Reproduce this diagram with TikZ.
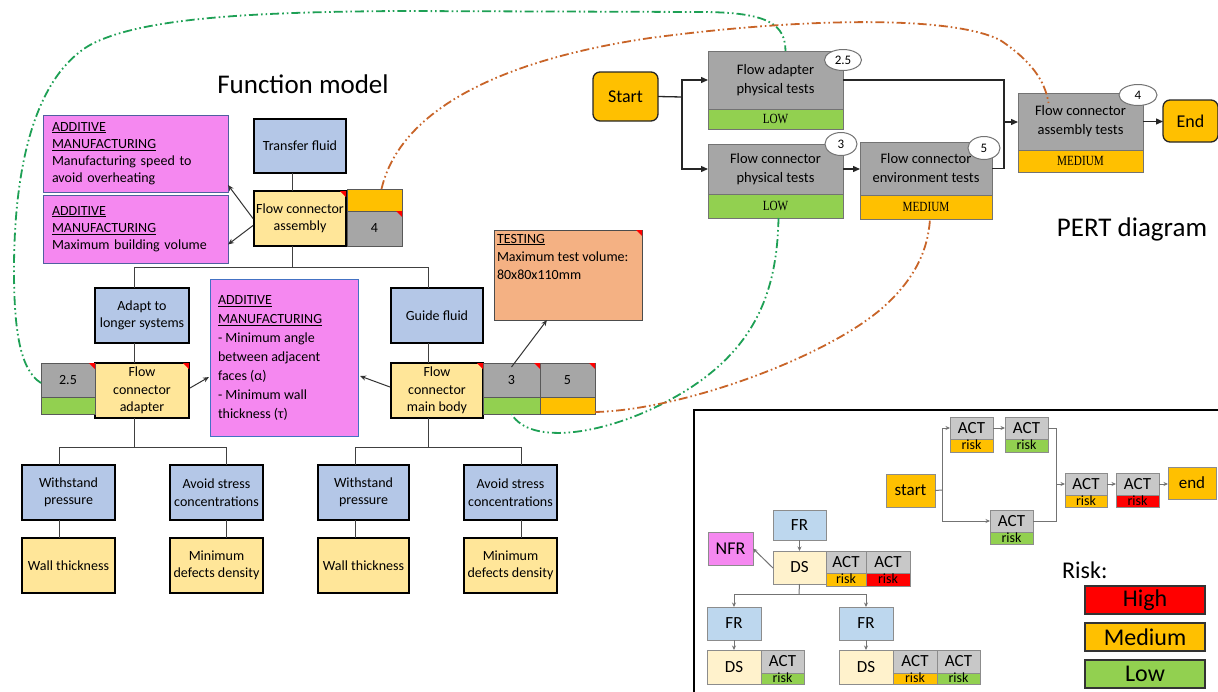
\documentclass[tikz,border=0pt]{standalone}
\usepackage{fontspec}
\setmainfont{Carlito}
\newfontfamily\riskfont[FakeStretch=0.8]{Liberation Serif}
\usetikzlibrary{arrows.meta,shapes.geometric}

\definecolor{fmblue}{RGB}{180,199,231}
\definecolor{fmyellow}{RGB}{255,230,153}
\definecolor{fmgray}{RGB}{166,166,166}
\definecolor{amorange}{RGB}{255,192,0}
\definecolor{riskgreen}{RGB}{146,208,80}
\definecolor{amred}{RGB}{255,0,0}
\definecolor{ampink}{RGB}{245,136,240}
\definecolor{pinkedge}{RGB}{80,95,160}
\definecolor{bigpinkedge}{RGB}{68,114,196}
\definecolor{testfill}{RGB}{244,177,131}
\definecolor{insetgray}{RGB}{200,200,200}
\definecolor{insetblue}{RGB}{189,215,238}
\definecolor{insetcream}{RGB}{255,242,204}
\definecolor{linkgreen}{RGB}{30,160,85}
\definecolor{linkorange}{RGB}{200,100,40}
\definecolor{edgegray}{RGB}{89,89,89}

\newcommand{\fsz}[2]{\fontsize{#1}{#2}\selectfont}
\newcommand{\redcorner}[1]{\fill[amred] ([xshift=-6pt]#1.north east) -- (#1.north east) -- ([yshift=-6pt]#1.north east) -- cycle;}

\tikzset{
  base/.style={anchor=north west, inner sep=0pt, outer sep=0pt, align=center},
  fmfun/.style={base, draw=black, line width=2pt, fill=fmblue, font=\fsz{14}{17.5}},
  fmds/.style={base, draw=black, line width=2pt, fill=fmyellow, font=\fsz{14}{17.5}},
  numbox/.style={base, draw=edgegray, line width=0.8pt, fill=fmgray, font=\fsz{14}{17}},
  riskbar/.style={base, draw=edgegray, line width=0.8pt},
  note/.style={base, draw=pinkedge, line width=1pt, fill=ampink, align=left, inner xsep=9pt, font=\fsz{14}{17}},
  fmline/.style={draw=black!75, line width=1pt},
  fmarrow/.style={draw=black!80, line width=1pt, -{Stealth[length=6pt,width=5pt]}},
  title/.style={font=\fsz{27}{27}, inner sep=0pt},
  pertbox/.style={base, draw=black!55, line width=1pt, fill=fmgray, font=\fsz{14.5}{19}},
  pertrisk/.style={base, draw=black!55, line width=1pt, font=\riskfont\fsz{14}{14}},
  terminal/.style={base, draw=black!85, line width=1.3pt, fill=amorange, rounded corners=7pt, font=\fsz{18}{18}},
  tag/.style={ellipse, draw=black!55, line width=1pt, fill=white, inner sep=0pt, font=\fsz{13}{13}},
  pertline/.style={draw=black!85, line width=1.3pt},
  pertarrow/.style={draw=black!85, line width=1.3pt, -{Triangle[length=7pt,width=6pt]}},
  actbox/.style={base, draw=black!45, line width=0.8pt, fill=insetgray, font=\fsz{17}{17}},
  riskcell/.style={base, draw=black!45, line width=0.8pt, font=\fsz{14}{14}, text height=9pt, text depth=1pt},
  inbox/.style={base, draw=black!45, line width=0.8pt, font=\fsz{17}{17}},
  legendbox/.style={base, draw=black!80, line width=1.2pt, font=\fsz{24}{24}},
  inline/.style={draw=black!55, line width=1pt},
  inarrow/.style={draw=black!55, line width=1pt, -{Stealth[length=4.5pt,width=4pt]}},
  link/.style={line width=1.8pt, dash pattern=on 9pt off 3pt on 1.6pt off 3pt on 1.6pt off 3pt},
}

\begin{document}
\begin{tikzpicture}[x=1pt,y=-1pt]
\useasboundingbox (0,0) rectangle (1218,691);

% ---------------- Function model ----------------
\node[title] (fmtitle) at (303,84) {Function model};

\node[note, text width=167pt, minimum width=185pt, minimum height=77pt] (am1) at (43,115)
  {\underline{ADDITIVE}\\\underline{MANUFACTURING}\\Manufacturing speed to\\avoid overheating};
\node[note, text width=167pt, minimum width=185pt, minimum height=68pt] (am2) at (43,195)
  {\underline{ADDITIVE}\\\underline{MANUFACTURING}\\Maximum building volume};

\node[fmfun, minimum width=92pt, minimum height=54pt] (tf) at (254,119) {Transfer fluid};
\node[fmds, minimum width=92pt, minimum height=55pt] (fca) at (254,191) {Flow connector\\assembly};
\node[riskbar, fill=amorange, minimum width=55pt, minimum height=22pt] (fcarisk) at (347,189) {};
\node[numbox, minimum width=55pt, minimum height=35pt] (fcanum) at (347,211) {4};

\node[fmfun, minimum width=94pt, minimum height=55pt] (adapt) at (95,288) {Adapt to\\longer systems};
\node[fmfun, minimum width=92pt, minimum height=55pt] (guide) at (391,288) {Guide fluid};

\node[fmds, minimum width=94pt, minimum height=55pt] (adapter) at (95,363) {Flow\\connector\\adapter};
\node[numbox, minimum width=54pt, minimum height=34pt] (num25) at (41,363) {2.5};
\node[riskbar, fill=riskgreen, minimum width=54pt, minimum height=17pt] (risk25) at (41,397) {};

\node[fmds, minimum width=92pt, minimum height=55pt] (body) at (391,363) {Flow\\connector\\main body};
\node[numbox, minimum width=57pt, minimum height=34pt] (num3) at (483,363) {3};
\node[riskbar, fill=riskgreen, minimum width=57pt, minimum height=17pt] (risk3) at (483,397) {};
\node[numbox, minimum width=55pt, minimum height=34pt] (num5) at (540,363) {5};
\node[riskbar, fill=amorange, minimum width=55pt, minimum height=17pt] (risk5) at (540,397) {};

\node[base, draw=bigpinkedge, line width=1pt, fill=ampink, minimum width=148pt, minimum height=157pt] (bigam) at (210,279) {};
\node[base, align=left, font=\fsz{14}{19}] (bigamtext) at (218,296)
  {\underline{ADDITIVE}\\\underline{MANUFACTURING}\\- Minimum angle\\between adjacent\\faces (α)\\- Minimum wall\\thickness (τ)};

\node[base, draw=black!70, line width=1pt, fill=testfill, minimum width=148pt, minimum height=90pt] (testing) at (494,230) {};
\node[base, align=left, font=\fsz{14}{18}] (testingtext) at (497,234)
  {\underline{TESTING}\\Maximum test volume:\\80x80x110mm};

\node[fmfun, minimum width=93pt, minimum height=55pt] (ws1) at (22,465) {Withstand\\pressure};
\node[fmfun, minimum width=93pt, minimum height=55pt] (av1) at (170,465) {Avoid stress\\concentrations};
\node[fmds, minimum width=93pt, minimum height=55pt] (wt1) at (22,538) {Wall thickness};
\node[fmds, minimum width=93pt, minimum height=55pt] (md1) at (170,538) {Minimum\\defects density};
\node[fmfun, minimum width=91pt, minimum height=55pt] (ws2) at (318,465) {Withstand\\pressure};
\node[fmfun, minimum width=93pt, minimum height=55pt] (av2) at (464,465) {Avoid stress\\concentrations};
\node[fmds, minimum width=91pt, minimum height=55pt] (wt2) at (318,538) {Wall thickness};
\node[fmds, minimum width=93pt, minimum height=55pt] (md2) at (464,538) {Minimum\\defects density};

\redcorner{fca}
\redcorner{fcanum}
\redcorner{adapter}
\redcorner{num25}
\redcorner{body}
\redcorner{num3}
\redcorner{num5}
\redcorner{testing}

% tree connectors
\coordinate (jt) at (292,267);
\coordinate (jl) at (134,267);
\coordinate (jr) at (428,267);
\draw[fmline] (jt |- tf.south) -- (jt |- fca.north);
\draw[fmline] (jt |- fca.south) -- (jt);
\draw[fmline] (jl |- adapt.north) -- (jl) -- (jr) -- (jr |- guide.north);
\draw[fmline] (jl |- adapt.south) -- (jl |- adapter.north);
\draw[fmline] (jr |- guide.south) -- (jr |- body.north);

\coordinate (bl) at (134,447);
\coordinate (br) at (428,447);
\coordinate (c1) at (59,447);
\coordinate (c2) at (226,447);
\coordinate (c3) at (355,447);
\coordinate (c4) at (521,447);
\draw[fmline] (bl |- adapter.south) -- (bl);
\draw[fmline] (br |- body.south) -- (br);
\draw[fmline] (c1 |- ws1.north) -- (c1) -- (c2) -- (c2 |- av1.north);
\draw[fmline] (c3 |- ws2.north) -- (c3) -- (c4) -- (c4 |- av2.north);
\draw[fmline] (c1 |- ws1.south) -- (c1 |- wt1.north);
\draw[fmline] (c2 |- av1.south) -- (c2 |- md1.north);
\draw[fmline] (c3 |- ws2.south) -- (c3 |- wt2.north);
\draw[fmline] (c4 |- av2.south) -- (c4 |- md2.north);

% constraint arrows
\draw[fmarrow] ([xshift=-1pt]fca.west) -- ([yshift=7pt]am1.south east);
\draw[fmarrow] ([xshift=-1pt,yshift=-7pt]fca.west) -- ([yshift=-15.5pt]am2.east);
\draw[fmarrow] ([xshift=1pt,yshift=2.5pt]adapter.east) -- ([xshift=-1pt,yshift=-19.5pt]bigam.west);
\draw[fmarrow] ([xshift=-1pt,yshift=3.5pt]body.west) -- ([xshift=2pt,yshift=-18.5pt]bigam.east);
\draw[fmarrow] ([yshift=-4pt]num3.north) -- ([xshift=-21pt]testing.south);

% ---------------- PERT diagram ----------------
\node[title] (perttitle) at (1132,229) {PERT diagram};

\node[terminal, minimum width=65pt, minimum height=49pt] (start) at (593,72) {Start};
\node[pertbox, minimum width=135pt, minimum height=58pt] (fapt) at (708,51) {Flow adapter\\physical tests};
\node[pertrisk, fill=riskgreen, minimum width=135pt, minimum height=20pt] (faptr) at (708,109) {LOW};
\node[pertbox, minimum width=135pt, minimum height=50pt] (fcpt) at (708,144) {Flow connector\\physical tests};
\node[pertrisk, fill=riskgreen, minimum width=135pt, minimum height=24pt] (fcptr) at (708,194) {LOW};
\node[pertbox, minimum width=132pt, minimum height=53pt] (fcet) at (860,142) {Flow connector\\environment tests};
\node[pertrisk, fill=amorange, minimum width=132pt, minimum height=24pt] (fcetr) at (860,195) {MEDIUM};
\node[pertbox, minimum width=125pt, minimum height=57pt] (fcat) at (1018,93) {Flow connector\\assembly tests};
\node[pertrisk, fill=amorange, minimum width=125pt, minimum height=22pt] (fcatr) at (1018,150) {MEDIUM};
\node[terminal, minimum width=55pt, minimum height=42pt] (finish) at (1163,100) {End};

\node[tag, minimum width=37pt, minimum height=21pt] (t25) at (843,60) {2.5};
\node[tag, minimum width=32pt, minimum height=23pt] (t3) at (841,144) {3};
\node[tag, minimum width=32pt, minimum height=23pt] (t5) at (984,148) {5};
\node[tag, minimum width=38pt, minimum height=21pt] (t4) at (1138,95) {4};

\coordinate (sj) at (682,97);
\coordinate (mj) at (1004,122);
\draw[pertline] (start.east) -- (sj);
\draw[pertarrow] (sj) |- (fapt.west);
\draw[pertarrow] (sj) |- (fcpt.west);
\draw[pertarrow] (fcpt.east) -- (fcpt.east -| fcet.west);
\draw[pertline] (fapt.east) -| (mj);
\draw[pertline] (fcet.east) -| (mj);
\draw[pertarrow] (mj) -- (mj -| fcat.west);
\draw[pertarrow] (fcat.east) -- (fcat.east -| finish.west);

% ---------------- Legend inset ----------------
\draw[black, line width=1.5pt] (694,410) rectangle (1224,697);

\node[inbox, fill=amorange, minimum width=49pt, minimum height=33pt] (start2) at (886,474) {start};
\node[actbox, minimum width=43pt, minimum height=22pt] (act1) at (950,417) {ACT};
\node[riskcell, fill=amorange, minimum width=43pt, minimum height=13pt] (r1) at (950,439) {risk};
\node[actbox, minimum width=43pt, minimum height=22pt] (act2) at (1005,417) {ACT};
\node[riskcell, fill=riskgreen, minimum width=43pt, minimum height=13pt] (r2) at (1005,439) {risk};
\node[actbox, minimum width=43pt, minimum height=22pt] (act5) at (990,510) {ACT};
\node[riskcell, fill=riskgreen, minimum width=43pt, minimum height=12pt] (r5) at (990,532) {risk};
\node[actbox, minimum width=42pt, minimum height=22pt] (act3) at (1065,473) {ACT};
\node[riskcell, fill=amorange, minimum width=42pt, minimum height=12pt] (r3) at (1065,495) {risk};
\node[actbox, minimum width=43pt, minimum height=22pt] (act4) at (1116,473) {ACT};
\node[riskcell, fill=amred, minimum width=43pt, minimum height=12pt] (r4) at (1116,495) {risk};
\node[inbox, fill=amorange, minimum width=48pt, minimum height=32pt] (end2) at (1168,467) {end};

\coordinate (ij) at (942,490);
\coordinate (ij2) at (1056,484);
\draw[inline] (start2.east) -- (ij);
\draw[inline] (ij |- act1.west) -- (ij |- act5.west);
\draw[inarrow] (ij |- act1.west) -- (act1.west);
\draw[inarrow] (ij |- act5.west) -- (act5.west);
\draw[inarrow] (act1.east) -- (act2.west);
\draw[inline] (act2.east) -| (ij2 |- act5.east) -- (act5.east);
\draw[inarrow] (ij2) -- (ij2 -| act3.west);
\draw[inarrow] (act3.east) -- (act4.west);
\draw[inarrow] (act4.east) -- (act4.east -| end2.west);

\node[inbox, fill=insetblue, minimum width=53pt, minimum height=30pt] (fr0) at (773,510) {FR};
\node[inbox, fill=insetcream, minimum width=53pt, minimum height=33pt] (ds0) at (773,551) {DS};
\node[actbox, minimum width=40pt, minimum height=22pt] (act6) at (826,551) {ACT};
\node[riskcell, fill=amorange, minimum width=40pt, minimum height=13pt] (r6) at (826,573) {risk};
\node[actbox, minimum width=44pt, minimum height=22pt] (act7) at (866,551) {ACT};
\node[riskcell, fill=amred, minimum width=44pt, minimum height=13pt] (r7) at (866,573) {risk};
\node[inbox, fill=ampink, minimum width=45pt, minimum height=33pt, font=\fsz{18}{18}] (nfr) at (708,532) {NFR};

\node[inbox, fill=insetblue, minimum width=54pt, minimum height=33pt] (fr1) at (707,607) {FR};
\node[inbox, fill=insetblue, minimum width=54pt, minimum height=33pt] (fr2) at (839,607) {FR};
\node[inbox, fill=insetcream, minimum width=54pt, minimum height=34pt] (ds1) at (707,650) {DS};
\node[actbox, minimum width=43pt, minimum height=23pt] (act8) at (761,650) {ACT};
\node[riskcell, fill=riskgreen, minimum width=43pt, minimum height=11pt] (r8) at (761,673) {risk};
\node[inbox, fill=insetcream, minimum width=54pt, minimum height=34pt] (ds2) at (839,650) {DS};
\node[actbox, minimum width=44pt, minimum height=23pt] (act9) at (893,650) {ACT};
\node[riskcell, fill=amorange, minimum width=44pt, minimum height=11pt] (r9) at (893,673) {risk};
\node[actbox, minimum width=43pt, minimum height=23pt] (act10) at (937,650) {ACT};
\node[riskcell, fill=riskgreen, minimum width=43pt, minimum height=11pt] (r10) at (937,673) {risk};

\coordinate (tj) at (799,594);
\draw[inarrow] (fr0.south) -- (ds0.north);
\draw[inarrow] ([yshift=-0.5pt]ds0.west) -- (nfr.east);
\draw[inline] (ds0.south) -- (tj);
\draw[inline] (fr1.north |- tj) -- (fr2.north |- tj);
\draw[inarrow] (fr1.north |- tj) -- (fr1.north);
\draw[inarrow] (fr2.north |- tj) -- (fr2.north);
\draw[inarrow] (fr1.south) -- (ds1.north);
\draw[inarrow] (fr2.south) -- (ds2.north);

\node[anchor=base west, inner sep=0pt, font=\fsz{24}{24}] (risklabel) at (1062,578) {Risk:};
\node[legendbox, fill=amred, minimum width=120pt, minimum height=28pt] (lhigh) at (1085,586) {High};
\node[legendbox, fill=amorange, minimum width=120pt, minimum height=28pt] (lmed) at (1085,623) {Medium};
\node[legendbox, fill=riskgreen, minimum width=120pt, minimum height=28pt] (llow) at (1085,660) {Low};

% ---------------- cross links between the two models ----------------
\draw[link, linkgreen] ([yshift=-3pt]num25.west) .. controls (20,370) and (14,330) .. (14,270)
  .. controls (14,180) and (30,80) .. (90,45)
  .. controls (140,18) and (250,12) .. (400,11) -- (700,12)
  .. controls (770,12) and (785,25) .. ([xshift=10pt]fapt.north);
\draw[link, linkgreen] ([xshift=3pt]fcptr.south) .. controls (777,300) and (750,360) .. (660,405)
  .. controls (600,435) and (530,445) .. (risk3.south);
\draw[link, linkorange] ([xshift=7pt]fcarisk.north) .. controls (400,110) and (500,60) .. (650,38)
  .. controls (800,18) and (950,15) .. (1000,40)
  .. controls (1030,60) and (1045,80) .. ([xshift=-32pt,yshift=-10pt]fcat.north);
\draw[link, linkorange] ([yshift=2pt]risk5.south east) .. controls (680,410) and (820,360) .. (880,310)
  .. controls (915,280) and (928,250) .. ([xshift=4pt]fcetr.south);

\end{tikzpicture}
\end{document}
